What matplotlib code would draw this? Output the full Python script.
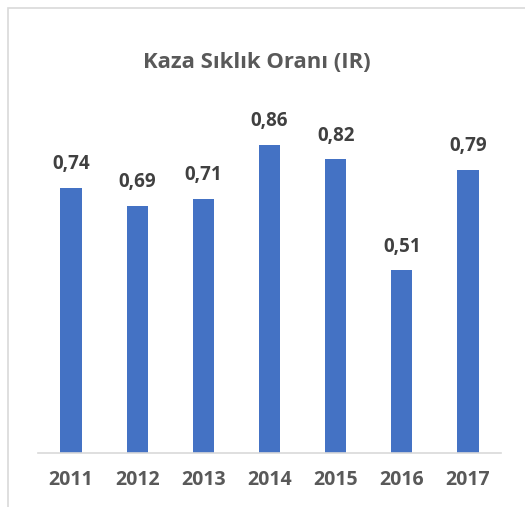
import matplotlib.pyplot as plt
from matplotlib.patches import Rectangle

years = ['2011', '2012', '2013', '2014', '2015', '2016', '2017']
rates = [0.74, 0.69, 0.71, 0.86, 0.82, 0.51, 0.79]
labels = ['0,74', '0,69', '0,71', '0,86', '0,82', '0,51', '0,79']

plt.rcParams['font.family'] = ['Open Sans', 'DejaVu Sans']

W, H = 525, 507
fig = plt.figure(figsize=(W / 100, H / 100), dpi=100)

# chart frame (runs off the right and bottom edge)
fig.patches.append(Rectangle((8 / W, -0.1), 1.2, (H - 8) / H + 0.1,
                             transform=fig.transFigure, fill=False,
                             edgecolor='#d9d9d9', linewidth=1.2))

# plot area: baseline at y=453, x from 38 to 501, 1.0 at y=95
ax = fig.add_axes([38 / W, (H - 453) / H, 463 / W, 358 / H])
x = range(len(years))
ax.bar(x, rates, width=0.32, color='#4472c4')
ax.set_xlim(-0.5, len(years) - 0.5)
ax.set_ylim(0, 1.0)

for xi, v, lab in zip(x, rates, labels):
    ax.annotate(lab, (xi, v), xytext=(0, 10), textcoords='offset points',
                ha='center', va='bottom', fontsize=13.5, fontweight='bold',
                color='#404040')

ax.set_xticks(list(x))
ax.set_xticklabels(years, fontsize=14, fontweight='bold', color='#595959')
ax.tick_params(axis='x', length=0, pad=12)
ax.set_yticks([])
for s in ['top', 'right', 'left']:
    ax.spines[s].set_visible(False)
ax.spines['bottom'].set_color('#d9d9d9')
ax.spines['bottom'].set_linewidth(1.2)

fig.text(257 / W, 1 - 62 / H, 'Kaza Sıklık Oranı (IR)', ha='center',
         va='center', fontsize=15.8, fontweight='bold', color='#595959')

fig.savefig('out.png', dpi=100)
